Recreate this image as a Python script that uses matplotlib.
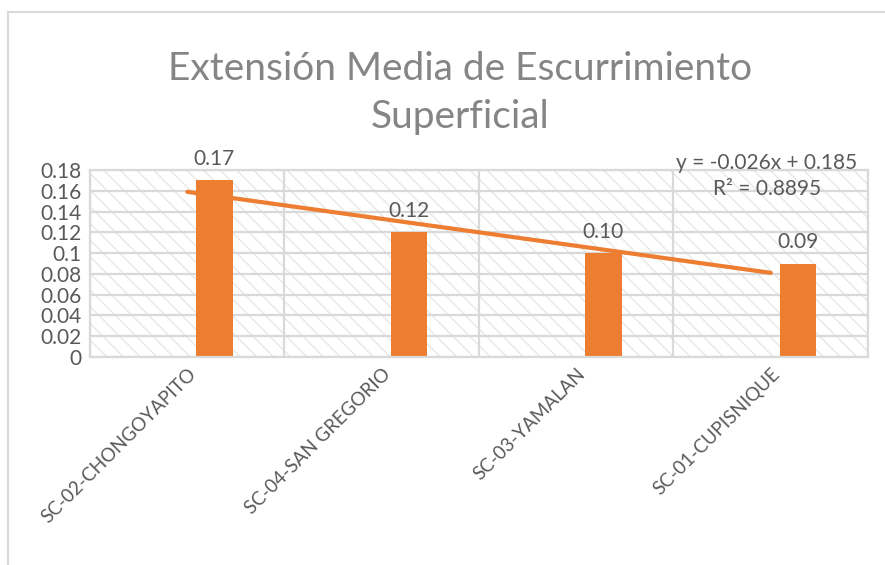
import numpy as np
import matplotlib
matplotlib.use("Agg")
import matplotlib.pyplot as plt
from matplotlib.patches import Rectangle
from matplotlib.lines import Line2D

# data
categories = ["SC-02-CHONGOYAPITO", "SC-04-SAN GREGORIO", "SC-03-YAMALAN", "SC-01-CUPISNIQUE"]
values = [0.17, 0.12, 0.10, 0.09]
y_ticks = [0, 0.02, 0.04, 0.06, 0.08, 0.1, 0.12, 0.14, 0.16, 0.18]
y_tick_labels = ["0", "0.02", "0.04", "0.06", "0.08", "0.1", "0.12", "0.14", "0.16", "0.18"]
title = "Extensión Media de Escurrimiento\nSuperficial"

ORANGE = "#ED7D31"
GRID = "#D9D9D9"
TEXT = "#595959"

plt.rcParams["font.family"] = ["Lato", "DejaVu Sans"]
plt.rcParams["hatch.linewidth"] = 0.8
plt.rcParams["hatch.color"] = "#E2E2E2"

fig = plt.figure(figsize=(8.85, 5.65), dpi=100)
ax = fig.add_axes([90 / 885, 1 - 357 / 565, (868 - 90) / 885, (357 - 170) / 565])

x = np.arange(1, len(categories) + 1)

# hatched plot area
ax.add_patch(Rectangle((0, 0), 1, 1, transform=ax.transAxes, facecolor="white",
                       edgecolor="#E2E2E2", hatch="\\\\", linewidth=0, zorder=0))

# gridlines (horizontal at ticks, vertical at category boundaries)
for yt in y_ticks:
    ax.axhline(yt, color=GRID, lw=1.6, zorder=1)
for xb in np.arange(0.5, len(categories) + 1, 1):
    ax.axvline(xb, color=GRID, lw=1.6, zorder=1)

bars = ax.bar(x + 0.14, values, width=0.19, color=ORANGE, zorder=2)
for b, v in zip(bars, values):
    ax.annotate(f"{v:.2f}", (b.get_x() + b.get_width() / 2, v), xytext=(0, 8),
                textcoords="offset points", ha="center", va="bottom",
                fontsize=15, color=TEXT, zorder=4)

# linear trendline
slope, intercept = np.polyfit(x, values, 1)
fit = slope * x + intercept
r2 = 1 - np.sum((np.array(values) - fit) ** 2) / np.sum((np.array(values) - np.mean(values)) ** 2)
ax.plot(x, fit, color=ORANGE, lw=3, solid_capstyle="round", zorder=3)
ax.text(767 / 885, 1 - 176 / 565, f"y = {slope:.3f}x + {intercept:.3f}\nR² = {r2:.4f}",
        transform=fig.transFigure, ha="center", va="center", fontsize=15, color=TEXT,
        linespacing=1.35, zorder=5)

ax.set_xlim(0.5, len(categories) + 0.5)
ax.set_ylim(0, 0.18)
ax.set_yticks(y_ticks)
ax.set_yticklabels(y_tick_labels, fontsize=15, color=TEXT)
ax.set_xticks(x)
ax.set_xticklabels(categories, rotation=45, ha="right", va="top", rotation_mode="anchor",
                   fontsize=13.5, color=TEXT)
ax.tick_params(length=0, pad=6)
for s in ax.spines.values():
    s.set_color(GRID)
    s.set_linewidth(1.6)

fig.text(460 / 885, 1 - 93 / 565, title, ha="center", va="center", fontsize=28,
         color="#858585", linespacing=1.4)

# chart outline visible on top and left
fig.add_artist(Line2D([8 / 885, 1], [1 - 12 / 565, 1 - 12 / 565], color=GRID, lw=1.5))
fig.add_artist(Line2D([8 / 885, 8 / 885], [0, 1 - 12 / 565], color=GRID, lw=1.5))

fig.savefig("out.png", dpi=100)
